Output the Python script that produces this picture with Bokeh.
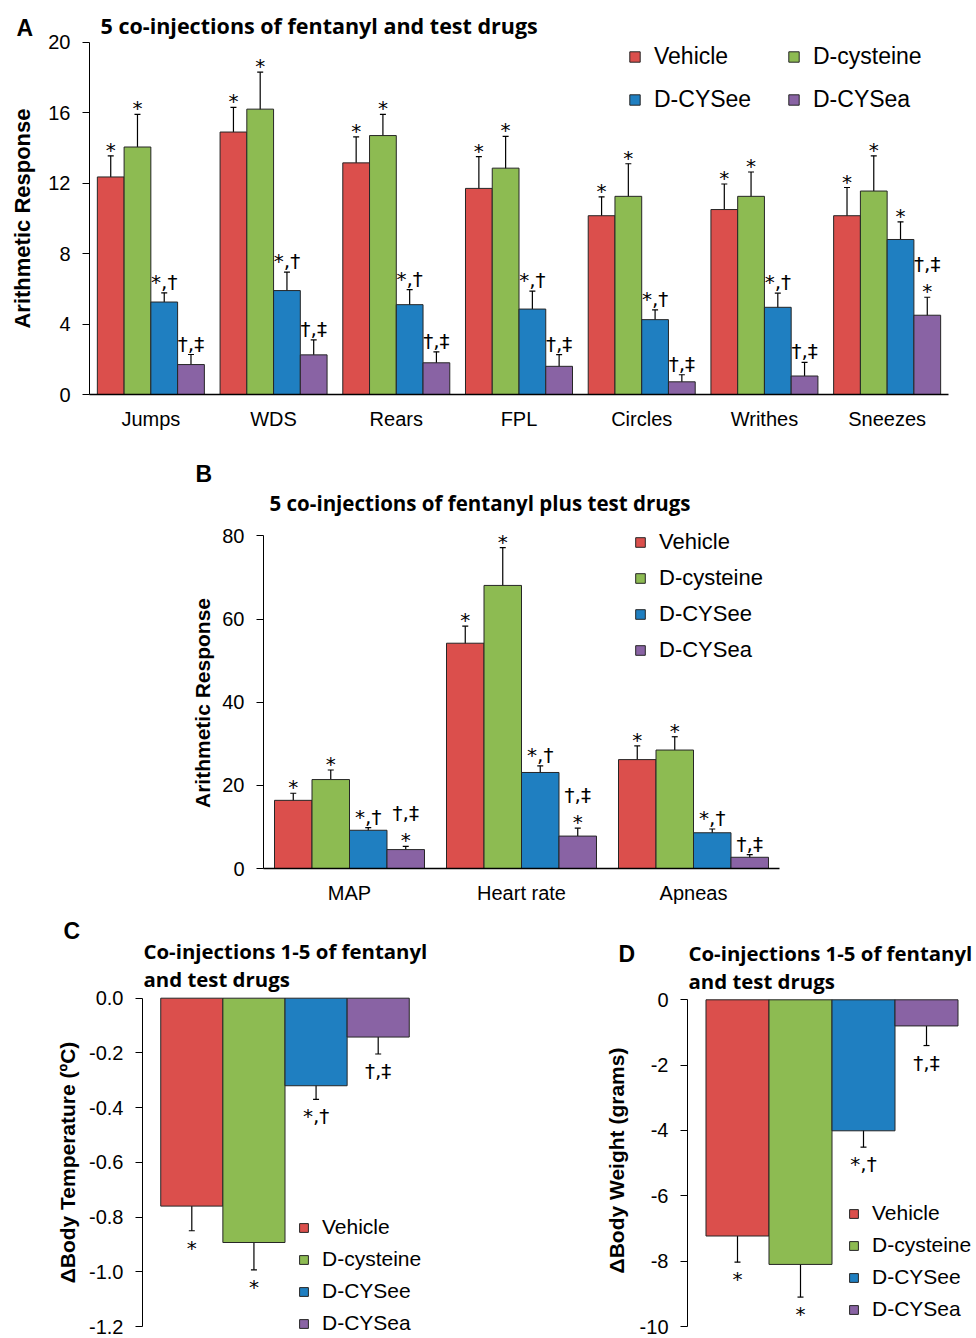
from bokeh.plotting import figure
from bokeh.models import (ColumnDataSource, FactorRange, Range1d, FixedTicker, Whisker,
                          TeeHead, Legend, LegendItem, Label, PrintfTickFormatter)
from bokeh.transform import dodge
from bokeh.layouts import column, row
from bokeh.embed import file_html
from bokeh.resources import INLINE

series_names = ["Vehicle", "D-cysteine", "D-CYSee", "D-CYSea"]
series_colors = ["#DB4F4C", "#8DBB52", "#1F7FC1", "#8963A4"]

# ---------------- Panel A ----------------
a_cats = ["Jumps", "WDS", "Rears", "FPL", "Circles", "Writhes", "Sneezes"]
a_vehicle = [12.35, 14.9, 13.15, 11.7, 10.15, 10.5, 10.15]
a_vehicle_sem = [1.2, 1.4, 1.47, 1.8, 1.07, 1.45, 1.6]
a_dcys = [14.05, 16.2, 14.7, 12.85, 11.25, 11.25, 11.55]
a_dcys_sem = [1.85, 2.1, 1.2, 1.8, 1.85, 1.38, 2.0]
a_dcysee = [5.25, 5.9, 5.1, 4.85, 4.25, 4.95, 8.8]
a_dcysee_sem = [0.52, 1.05, 0.85, 1.02, 0.55, 0.8, 1.0]
a_dcysea = [1.7, 2.25, 1.8, 1.6, 0.72, 1.05, 4.5]
a_dcysea_sem = [0.57, 0.85, 0.62, 0.66, 0.4, 0.77, 1.02]
a_vehicle_sig = ["*", "*", "*", "*", "*", "*", "*"]
a_dcys_sig = ["*", "*", "*", "*", "*", "*", "*"]
a_dcysee_sig = ["*,†", "*,†", "*,†", "*,†", "*,†", "*,†", "*"]
a_dcysea_sig = ["†,‡", "†,‡", "†,‡", "†,‡", "†,‡", "†,‡", "†,‡\n*"]
a_yticks = [0, 4, 8, 12, 16, 20]
a_title = "5 co-injections of fentanyl and test drugs"
a_ylabel = "Arithmetic Response"

# ---------------- Panel B ----------------
b_cats = ["MAP", "Heart rate", "Apneas"]
b_vehicle = [16.4, 54.2, 26.2]
b_vehicle_sem = [1.7, 4.1, 3.3]
b_dcys = [21.4, 68.1, 28.5]
b_dcys_sem = [2.3, 9.1, 3.2]
b_dcysee = [9.2, 23.1, 8.6]
b_dcysee_sem = [0.65, 1.6, 0.9]
b_dcysea = [4.55, 7.8, 2.7]
b_dcysea_sem = [0.75, 1.9, 0.65]
b_vehicle_sig = ["*", "*", "*"]
b_dcys_sig = ["*", "*", "*"]
b_dcysee_sig = ["*,†", "*,†", "*,†"]
b_dcysea_sig = ["†,‡\n*", "†,‡\n*", "†,‡"]
b_yticks = [0, 20, 40, 60, 80]
b_title = "5 co-injections of fentanyl plus test drugs"
b_ylabel = "Arithmetic Response"

# ---------------- Panel C ----------------
c_cats = ["Co-injections 1-5"]
c_vehicle = [-0.76]
c_vehicle_sem = [0.09]
c_dcys = [-0.893]
c_dcys_sem = [0.10]
c_dcysee = [-0.32]
c_dcysee_sem = [0.05]
c_dcysea = [-0.142]
c_dcysea_sem = [0.062]
c_vehicle_sig = ["*"]
c_dcys_sig = ["*"]
c_dcysee_sig = ["*,†"]
c_dcysea_sig = ["†,‡"]
c_yticks = [0.0, -0.2, -0.4, -0.6, -0.8, -1.0, -1.2]
c_title = ["Co-injections 1-5 of fentanyl", "and test drugs"]
c_ylabel = "ΔBody Temperature (ºC)"

# ---------------- Panel D ----------------
d_cats = ["Co-injections 1-5"]
d_vehicle = [-7.23]
d_vehicle_sem = [0.8]
d_dcys = [-8.1]
d_dcys_sem = [1.0]
d_dcysee = [-4.01]
d_dcysee_sem = [0.5]
d_dcysea = [-0.8]
d_dcysea_sem = [0.6]
d_vehicle_sig = ["*"]
d_dcys_sig = ["*"]
d_dcysee_sig = ["*,†"]
d_dcysea_sig = ["†,‡"]
d_yticks = [0, -2, -4, -6, -8, -10]
d_title = ["Co-injections 1-5 of fentanyl", "and test drugs"]
d_ylabel = "ΔBody Weight (grams)"

OFFSETS = [-0.327, -0.109, 0.109, 0.327]
BAR_W = 0.218
ARIAL = "Liberation Sans"
SIG_FONT = "DejaVu Sans"
TITLE_FONT = "Open Sans"
ALL_FIGS = []


class Frame:
    """Pixel geometry of a plot frame on the page, and the y values at two reference pixels."""

    def __init__(self, left, right, top, bottom, v0, p0, v1, p1, n):
        self.left, self.right, self.top, self.bottom, self.n = left, right, top, bottom, n
        k = (v1 - v0) / (p0 - p1)
        self.ystart = v0 + (p0 - bottom) * k
        self.yend = v0 + (p0 - top) * k

    def data(self, px, py):
        x = (px - self.left) / (self.right - self.left) * self.n
        y = self.ystart + (self.bottom - py) / (self.bottom - self.top) * (self.yend - self.ystart)
        return x, y


def make_panel(cats, vals, sems, sigs, fr, page_x0, page_y0, width, height, bounds, yticks,
               fmt, show_x=True):
    left = fr.left - page_x0
    top = fr.top - page_y0
    right = page_x0 + width - fr.right
    bottom = page_y0 + height - fr.bottom
    p = figure(x_range=FactorRange(factors=cats), y_range=Range1d(fr.ystart, fr.yend),
               width=width, height=height, output_backend="svg",
               toolbar_location=None, min_border_left=left, min_border_right=right,
               min_border_top=top, min_border_bottom=bottom)
    ALL_FIGS.append(p)
    p.outline_line_color = None
    p.xgrid.visible = False
    p.ygrid.visible = False

    renderers = []
    for i in range(4):
        v = vals[i]
        s = sems[i]
        hi = [a + b for a, b in zip(v, s)]
        lo = [a - b for a, b in zip(v, s)]
        src = ColumnDataSource(dict(cat=cats, val=v, hi=hi, lo=lo))
        r = p.vbar(x=dodge("cat", OFFSETS[i], range=p.x_range), top="val", bottom=0,
                   width=BAR_W, source=src, fill_color=series_colors[i],
                   line_color="#262626", line_width=1)
        renderers.append(r)
        p.add_layout(Whisker(source=src, base=dodge("cat", OFFSETS[i], range=p.x_range),
                             upper="hi", lower="lo", line_color="black", line_width=1.2,
                             upper_head=TeeHead(size=6, line_color="black", line_width=1.2),
                             lower_head=TeeHead(size=6, line_color="black", line_width=1.2)))

        tx, ty, tt, toff = [], [], [], []
        for c, val, h, l, sg in zip(cats, v, hi, lo, sigs[i]):
            lines = sg.split("\n")
            n = len(lines)
            for k, line in enumerate(lines):
                idx = n - 1 - k
                tx.append(c)
                tt.append(line)
                if val >= 0:
                    ty.append(h)
                    if idx == 0:
                        toff.append(-6 if line == "*" else -11)
                    else:
                        toff.append(-33 * idx)
                else:
                    ty.append(l)
                    toff.append(17 + 22 * k)
        tsrc = ColumnDataSource(dict(cat=tx, y=ty, text=tt, off=toff))
        p.text(x=dodge("cat", OFFSETS[i], range=p.x_range), y="y", text="text",
               y_offset="off", source=tsrc, text_align="center",
               text_baseline="middle", text_font_size="20px",
               text_font={"value": SIG_FONT}, text_color="black")

    p.yaxis.ticker = FixedTicker(ticks=yticks)
    p.yaxis.formatter = PrintfTickFormatter(format=fmt)
    for ax in p.yaxis:
        ax.bounds = bounds
        ax.axis_line_color = "black"
        ax.axis_line_width = 1
        ax.major_tick_out = 7
        ax.major_tick_in = 0
        ax.minor_tick_out = 0
        ax.minor_tick_in = 0
        ax.major_tick_line_color = "black"
        ax.major_label_text_font = ARIAL
        ax.major_label_text_font_size = "20px"
        ax.major_label_text_color = "black"
        ax.major_label_standoff = 12
    for ax in p.xaxis:
        if not show_x:
            ax.visible = False
            continue
        ax.axis_line_color = "black"
        ax.axis_line_width = 1.3
        ax.major_tick_out = 0
        ax.major_tick_in = 0
        ax.minor_tick_out = 0
        ax.minor_tick_in = 0
        ax.major_label_text_font = ARIAL
        ax.major_label_text_font_size = "20px"
        ax.major_label_text_color = "black"
        ax.major_label_standoff = 13
    return p, renderers


def add_legend(p, renderers, idxs, loc, glyph, size, spacing):
    items = [LegendItem(label=series_names[i], renderers=[renderers[i]]) for i in idxs]
    p.add_layout(Legend(items=items, location=loc, orientation="vertical",
                        glyph_width=glyph, glyph_height=glyph, label_text_font=ARIAL,
                        label_text_font_size=size, label_text_color="black",
                        label_standoff=13, spacing=spacing, padding=0, margin=0,
                        border_line_color=None, background_fill_color=None))


def frame_text(p, fr, txt, px, py, size):
    x, y = fr.data(px, py)
    p.add_layout(Label(x=x, y=y, text=txt, text_font=TITLE_FONT, text_font_size=size,
                       text_font_style="bold", text_align="left", text_baseline="middle",
                       text_color="black"))


def side_strip(width, height, x0, y0):
    """Blank strip (no axes) at page offset (x0, y0) holding a panel letter and y title."""
    h = figure(width=width, height=height, x_range=Range1d(0, width),
               y_range=Range1d(0, height), output_backend="svg", toolbar_location=None,
               x_axis_location=None, y_axis_location=None, min_border=0)
    ALL_FIGS.append(h)
    h.outline_line_color = None
    h.xgrid.visible = False
    h.ygrid.visible = False
    return h, (x0, y0 + height)


def side_text(hh, txt, px, py, size, vertical=False):
    h, (ox, oy) = hh
    h.add_layout(Label(x=px - ox, y=oy - py, text=txt, text_font=ARIAL,
                       text_font_size=size, text_font_style="bold",
                       text_align="center" if vertical else "left",
                       text_baseline="middle", angle=90 if vertical else 0,
                       angle_units="deg", text_color="black"))


# ---------- Panel A (page rows 0-436) ----------
fa = Frame(89, 948, 0, 394, 0, 394, 20, 41.7, len(a_cats))
side_a = side_strip(40, 436, 0, 0)
side_text(side_a, "A", 16, 27, "23px")
side_text(side_a, a_ylabel, 21.5, 218, "22px", vertical=True)
pa, ra = make_panel(a_cats, [a_vehicle, a_dcys, a_dcysee, a_dcysea],
                    [a_vehicle_sem, a_dcys_sem, a_dcysee_sem, a_dcysea_sem],
                    [a_vehicle_sig, a_dcys_sig, a_dcysee_sig, a_dcysea_sig],
                    fa, 40, 0, 936, 436, (0, 20), a_yticks, "%d")
frame_text(pa, fa, a_title, 100, 25, "21.5px")
add_legend(pa, ra, [0, 2], (539, 281), 13, "23px", 16)
add_legend(pa, ra, [1, 3], (698, 281), 13, "23px", 16)

# ---------- Panel B (page rows 436-906) ----------
fb = Frame(263, 779, 436, 869, 0, 869, 80, 535.7, len(b_cats))
side_b = side_strip(218, 470, 0, 436)
side_text(side_b, "B", 195, 473, "23px")
side_text(side_b, b_ylabel, 202, 702.5, "21px", vertical=True)
pb, rb = make_panel(b_cats, [b_vehicle, b_dcys, b_dcysee, b_dcysea],
                    [b_vehicle_sem, b_dcys_sem, b_dcysee_sem, b_dcysea_sem],
                    [b_vehicle_sig, b_dcys_sig, b_dcysee_sig, b_dcysea_sig],
                    fb, 218, 436, 758, 470, (0, 80), b_yticks, "%d")
frame_text(pb, fb, b_title, 269, 503, "20.5px")
add_legend(pb, rb, [0, 1, 2, 3], (371, 205), 12, "22px", 10)

# ---------- Panel C (page rows 906-1338, columns 0-590) ----------
fc = Frame(142, 427, 906, 1338, 0, 997.7, -1.2, 1326, len(c_cats))
side_c = side_strip(86, 432, 0, 906)
side_text(side_c, "C", 63, 930.5, "23px")
side_text(side_c, c_ylabel, 66.5, 1162, "21px", vertical=True)
pc, rc = make_panel(c_cats, [c_vehicle, c_dcys, c_dcysee, c_dcysea],
                    [c_vehicle_sem, c_dcys_sem, c_dcysee_sem, c_dcysea_sem],
                    [c_vehicle_sig, c_dcys_sig, c_dcysee_sig, c_dcysea_sig],
                    fc, 86, 906, 504, 432, (-1.2, 0), c_yticks, "%.1f", show_x=False)
frame_text(pc, fc, c_title[0], 143, 950.4, "20.4px")
frame_text(pc, fc, c_title[1], 143, 978.8, "20.4px")
add_legend(pc, rc, [0, 1, 2, 3], (156, 3), 11, "21px", 8)

# ---------- Panel D (page rows 906-1338, columns 590-976) ----------
fd = Frame(687, 976, 906, 1338, 0, 999.3, -10, 1326, len(d_cats))
side_d = side_strip(46, 432, 590, 906)
side_text(side_d, "D", 618, 953.9, "23px")
side_text(side_d, d_ylabel, 615.8, 1160, "21px", vertical=True)
pd_, rd = make_panel(d_cats, [d_vehicle, d_dcys, d_dcysee, d_dcysea],
                     [d_vehicle_sem, d_dcys_sem, d_dcysee_sem, d_dcysea_sem],
                     [d_vehicle_sig, d_dcys_sig, d_dcysee_sig, d_dcysea_sig],
                     fd, 636, 906, 340, 432, (-10, 0), d_yticks, "%d", show_x=False)
frame_text(pd_, fd, d_title[0], 688, 952.1, "20.4px")
frame_text(pd_, fd, d_title[1], 688, 980.4, "20.4px")
add_legend(pd_, rd, [0, 1, 2, 3], (161, 17), 11, "21px", 8)

for f in ALL_FIGS:
    try:
        f.frame_align = False
    except Exception:
        pass

layout = column(row(side_a[0], pa, spacing=0),
                row(side_b[0], pb, spacing=0),
                row(side_c[0], pc, side_d[0], pd_, spacing=0),
                spacing=0)
open("out.html", "w").write(file_html(layout, INLINE))
